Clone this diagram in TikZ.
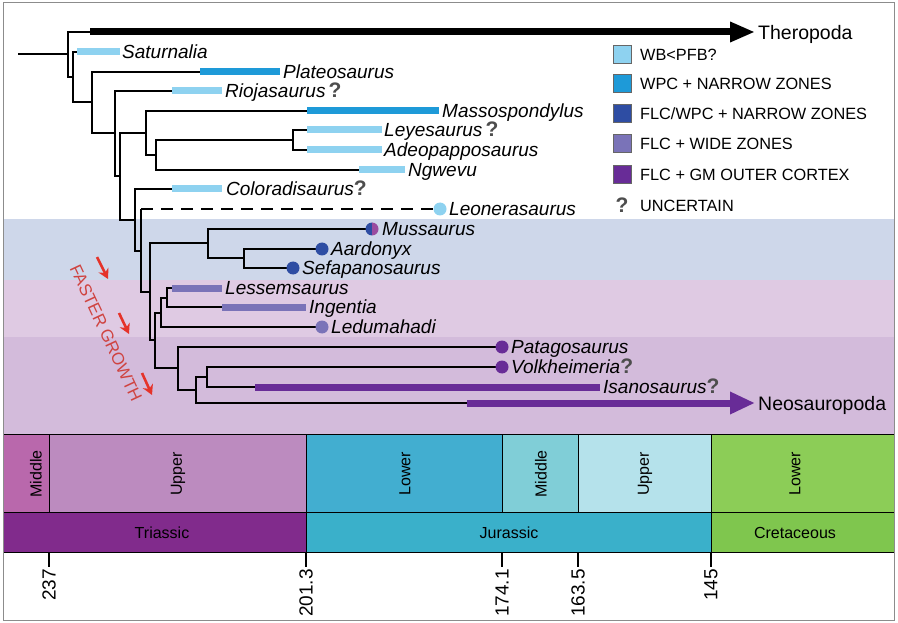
\documentclass[tikz,border=0pt]{standalone}
\usepackage{fontspec}
\setmainfont{Liberation Sans}
\usetikzlibrary{arrows.meta}
\definecolor{cWB}{HTML}{8ED2F0}
\definecolor{cWPC}{HTML}{1E9AD8}
\definecolor{cFW}{HTML}{2E4DA3}
\definecolor{cWide}{HTML}{7A73B8}
\definecolor{cGM}{HTML}{682C97}
\definecolor{cMag}{HTML}{9A4C9F}
\definecolor{cQ}{HTML}{4D4D4D}
\definecolor{bandB}{HTML}{CED7EA}
\definecolor{bandP}{HTML}{DFCAE3}
\definecolor{bandD}{HTML}{D3BBDB}
\definecolor{redA}{HTML}{E5332A}
\definecolor{redT}{HTML}{CF4340}
\definecolor{tMidTri}{HTML}{B968AC}
\definecolor{tUpTri}{HTML}{BC8BBF}
\definecolor{tTri}{HTML}{812B8C}
\definecolor{tLowJur}{HTML}{42AED0}
\definecolor{tMidJur}{HTML}{80CED7}
\definecolor{tUpJur}{HTML}{B5E2EB}
\definecolor{tJur}{HTML}{3AB0CA}
\definecolor{tLowCre}{HTML}{8CCD57}
\definecolor{tCre}{HTML}{7FC64E}
\begin{document}
\begin{tikzpicture}[x=1pt,y=-1pt,
  branch/.style={line width=2.3pt, line join=miter, draw=black},
  barline/.style={line width=7pt},
  sp/.style={font=\fontsize{19}{20}\selectfont\itshape, anchor=base west, inner sep=0pt},
  big/.style={font=\fontsize{19.5}{20}\selectfont, anchor=base west, inner sep=0pt},
  dot/.style={circle, minimum size=13pt, inner sep=0pt},
  legsq/.style={rectangle, minimum size=18pt, inner sep=0pt, draw=black!60, line width=0.6pt},
  legtxt/.style={font=\fontsize{16.3}{17}\selectfont, anchor=base west, inner sep=0pt},
  stage/.style={font=\fontsize{16}{17}\selectfont, rotate=90, inner sep=0pt},
  period/.style={font=\fontsize{16}{17}\selectfont, inner sep=0pt},
  agelab/.style={font=\fontsize{19}{20}\selectfont, rotate=90, anchor=east, inner sep=0pt},
  tsbox/.style={draw=black, line width=0.8pt},
  redarrow/.style={draw=redA, line width=2.6pt, -{Stealth[length=10pt,width=11pt]}}
]
\newcommand{\qmark}{{\fontsize{21}{21}\selectfont\bfseries\upshape\color{cQ}?}}
\useasboundingbox (0,0) rectangle (898,623);
\fill[white] (0,0) rectangle (898,623);
% bands
\fill[bandB] (3,219) rectangle (894,280);
\fill[bandP] (3,280) rectangle (894,337);
\fill[bandD] (3,337) rectangle (894,434);

% coordinates
\coordinate (R0) at (18,54);
\coordinate (nA) at (68,54);
\coordinate (thS) at (90,32);
\coordinate (thE) at (755,32);
\coordinate (nB) at (73,77);
\coordinate (satS) at (77,52);   \coordinate (satE) at (120,52);
\coordinate (nC) at (92,102);
\coordinate (plaS) at (200,72);  \coordinate (plaE) at (280,72);
\coordinate (nD) at (115,133);
\coordinate (rioS) at (172,91);  \coordinate (rioE) at (222,91);
\coordinate (nE) at (120,176);
\coordinate (nF) at (146,133);
\coordinate (masS) at (307,111); \coordinate (masE) at (439,111);
\coordinate (nG) at (156,155);
\coordinate (nH) at (293,140);
\coordinate (leyS) at (307,130); \coordinate (leyE) at (382,130);
\coordinate (adeS) at (307,150); \coordinate (adeE) at (382,150);
\coordinate (ngwS) at (359,170); \coordinate (ngwE) at (405,170);
\coordinate (nI) at (135,220);
\coordinate (colS) at (172,189); \coordinate (colE) at (222,189);
\coordinate (nJ) at (141,251);
\coordinate (leo) at (440,209);
\coordinate (nK) at (150,292);
\coordinate (nL) at (208,243);
\coordinate (mus) at (372,229);
\coordinate (nM) at (244,258);
\coordinate (aar) at (322,249);
\coordinate (sef) at (293,268);
\coordinate (nN) at (155,340);
\coordinate (nO) at (161,313);
\coordinate (nQ) at (167,298);
\coordinate (lesS) at (172,288); \coordinate (lesE) at (222,288);
\coordinate (ingS) at (222,307); \coordinate (ingE) at (306,307);
\coordinate (led) at (322,327);
\coordinate (nP) at (178,368);
\coordinate (pat) at (502,347);
\coordinate (nR) at (196,390);
\coordinate (nS) at (207,377);
\coordinate (vol) at (502,367);
\coordinate (isaS) at (255,387); \coordinate (isaE) at (600,387);
\coordinate (neoS) at (467,403); \coordinate (neoE) at (755,403);

% branches
\draw[branch] (R0) -- (nA);
\draw[branch] (nA) |- (thS);
\draw[branch] (nA) |- (nB);
\draw[branch] (nB) |- (satS);
\draw[branch] (nB) |- (nC);
\draw[branch] (nC) |- (plaS);
\draw[branch] (nC) |- (nD);
\draw[branch] (nD) |- (rioS);
\draw[branch] (nD) |- (nE);
\draw[branch] (nE) |- (nF);
\draw[branch] (nE) |- (nI);
\draw[branch] (nF) |- (masS);
\draw[branch] (nF) |- (nG);
\draw[branch] (nG) |- (nH);
\draw[branch] (nG) |- (ngwS);
\draw[branch] (nH) |- (leyS);
\draw[branch] (nH) |- (adeS);
\draw[branch] (nI) |- (colS);
\draw[branch] (nI) |- (nJ);
\draw[branch] (nJ) -- (nJ |- leo);
\draw[branch, dash pattern=on 12pt off 8pt] (nJ |- leo) -- (leo);
\draw[branch] (nJ) |- (nK);
\draw[branch] (nK) |- (nL);
\draw[branch] (nK) |- (nN);
\draw[branch] (nL) |- (mus);
\draw[branch] (nL) |- (nM);
\draw[branch] (nM) |- (aar);
\draw[branch] (nM) |- (sef);
\draw[branch] (nN) |- (nO);
\draw[branch] (nN) |- (nP);
\draw[branch] (nO) |- (nQ);
\draw[branch] (nO) |- (led);
\draw[branch] (nQ) |- (lesS);
\draw[branch] (nQ) |- (ingS);
\draw[branch] (nP) |- (pat);
\draw[branch] (nP) |- (nR);
\draw[branch] (nR) |- (nS);
\draw[branch] (nR) |- (neoS);
\draw[branch] (nS) |- (vol);
\draw[branch] (nS) |- (isaS);

% bars
\draw[line width=7pt, -{Triangle[length=25pt,width=19pt]}] (thS) -- (thE);
\draw[barline, cWB] (satS) -- (satE);
\draw[barline, cWPC] (plaS) -- (plaE);
\draw[barline, cWB] (rioS) -- (rioE);
\draw[barline, cWPC] (masS) -- (masE);
\draw[barline, cWB] (leyS) -- (leyE);
\draw[barline, cWB] (adeS) -- (adeE);
\draw[barline, cWB] (ngwS) -- (ngwE);
\draw[barline, cWB] (colS) -- (colE);
\draw[barline, cWide] (lesS) -- (lesE);
\draw[barline, cWide] (ingS) -- (ingE);
\draw[barline, cGM] (isaS) -- (isaE);
\draw[line width=7pt, cGM, -{Triangle[length=25pt,width=21pt]}] (neoS) -- (neoE);

% dots
\node[dot, fill=cWB] (leoDot) at (leo) {};
\node[dot] (musDot) at (mus) {};
\fill[cFW] (mus) ++(0,6.5) arc[start angle=90, end angle=270, radius=6.5] -- cycle;
\fill[cMag] (mus) ++(0,-6.5) arc[start angle=270, end angle=450, radius=6.5] -- cycle;
\node[dot, fill=cFW] (aarDot) at (aar) {};
\node[dot, fill=cFW] (sefDot) at (sef) {};
\node[dot, fill=cWide] (ledDot) at (led) {};
\node[dot, fill=cGM] (patDot) at (pat) {};
\node[dot, fill=cGM] (volDot) at (vol) {};

% labels
\node[big] (thL) at (758,39.5) {Theropoda};
\node[big] (neoL) at (758,410.5) {Neosauropoda};
\node[sp] (satL) at (122,58.5) {Saturnalia};
\node[sp] (plaL) at (283,78.5) {Plateosaurus};
\node[sp] (rioL) at (225,97.5) {Riojasaurus\,\qmark};
\node[sp] (masL) at (442,117.5) {Massospondylus};
\node[sp] (leyL) at (384,136.5) {Leyesaurus\,\qmark};
\node[sp] (adeL) at (384,156.5) {Adeopapposaurus};
\node[sp] (ngwL) at (408,176.5) {Ngwevu};
\node[sp] (colL) at (226,195.5) {Coloradisaurus\qmark};
\node[sp] (leoL) at (449,215.5) {Leonerasaurus};
\node[sp] (musL) at (382,235.5) {Mussaurus};
\node[sp] (aarL) at (331,255.5) {Aardonyx};
\node[sp] (sefL) at (302,274.5) {Sefapanosaurus};
\node[sp] (lesL) at (225,294.5) {Lessemsaurus};
\node[sp] (ingL) at (309,313.5) {Ingentia};
\node[sp] (ledL) at (331,333.5) {Ledumahadi};
\node[sp] (patL) at (511,353.5) {Patagosaurus};
\node[sp] (volL) at (511,373.5) {Volkheimeria\qmark};
\node[sp] (isaL) at (603,393.5) {Isanosaurus\qmark};

% legend
\node[legsq, fill=cWB] (lg1) at (622,54) {};
\node[legsq, fill=cWPC] (lg2) at (622,83) {};
\node[legsq, fill=cFW] (lg3) at (622,113) {};
\node[legsq, fill=cWide] (lg4) at (622,143) {};
\node[legsq, fill=cGM] (lg5) at (622,174) {};
\node[inner sep=0pt, font=\fontsize{21}{21}\selectfont\bfseries, text=cQ] (lg6) at (622,205) {?};
\node[legtxt] (lt1) at (640,61) {WB<PFB?};
\node[legtxt] (lt2) at (640,90) {WPC + NARROW ZONES};
\node[legtxt] (lt3) at (640,120) {FLC/WPC + NARROW ZONES};
\node[legtxt] (lt4) at (640,150) {FLC + WIDE ZONES};
\node[legtxt] (lt5) at (640,181) {FLC + GM OUTER CORTEX};
\node[legtxt] (lt6) at (640,212) {UNCERTAIN};

% faster growth
\node[font=\fontsize{17}{18}\selectfont, text=redT, rotate=-65, inner sep=0pt] (fg) at (106,333) {FASTER GROWTH};
\coordinate (a1s) at (97,257); \coordinate (a1e) at (108,279);
\coordinate (a2s) at (119,313); \coordinate (a2e) at (129,334);
\coordinate (a3s) at (142,373); \coordinate (a3e) at (152,395);
\draw[redarrow] (a1s) -- (a1e);
\draw[redarrow] (a2s) -- (a2e);
\draw[redarrow] (a3s) -- (a3e);

% time scale
\filldraw[tsbox, fill=tMidTri] (3,434) rectangle (49,512);
\filldraw[tsbox, fill=tUpTri] (49,434) rectangle (306,512);
\filldraw[tsbox, fill=tLowJur] (306,434) rectangle (502,512);
\filldraw[tsbox, fill=tMidJur] (502,434) rectangle (578,512);
\filldraw[tsbox, fill=tUpJur] (578,434) rectangle (711,512);
\filldraw[tsbox, fill=tLowCre] (711,434) rectangle (894,512);
\filldraw[tsbox, fill=tTri] (3,512) rectangle (306,552);
\filldraw[tsbox, fill=tJur] (306,512) rectangle (711,552);
\filldraw[tsbox, fill=tCre] (711,512) rectangle (894,552);
\node[stage] (s1) at (36,474) {Middle};
\node[stage] (s2) at (178,474) {Upper};
\node[stage] (s3) at (405,474) {Lower};
\node[stage] (s4) at (541,474) {Middle};
\node[stage] (s5) at (645,474) {Upper};
\node[stage] (s6) at (795,474) {Lower};
\node[period] (p1) at (162,533) {Triassic};
\node[period] (p2) at (509,533) {Jurassic};
\node[period] (p3) at (795,533) {Cretaceous};
\foreach \x/\t/\n in {49/237/k1, 306/201.3/k2, 502/174.1/k3, 578/163.5/k4, 711/145/k5}{
  \draw[line width=1.2pt] (\x,552) -- (\x,567);
  \node[agelab] (\n) at (\x,569) {\t};
}
% frame
\draw[black!45, line width=1pt] (3,3) rectangle (894,620);
\end{tikzpicture}
\end{document}
